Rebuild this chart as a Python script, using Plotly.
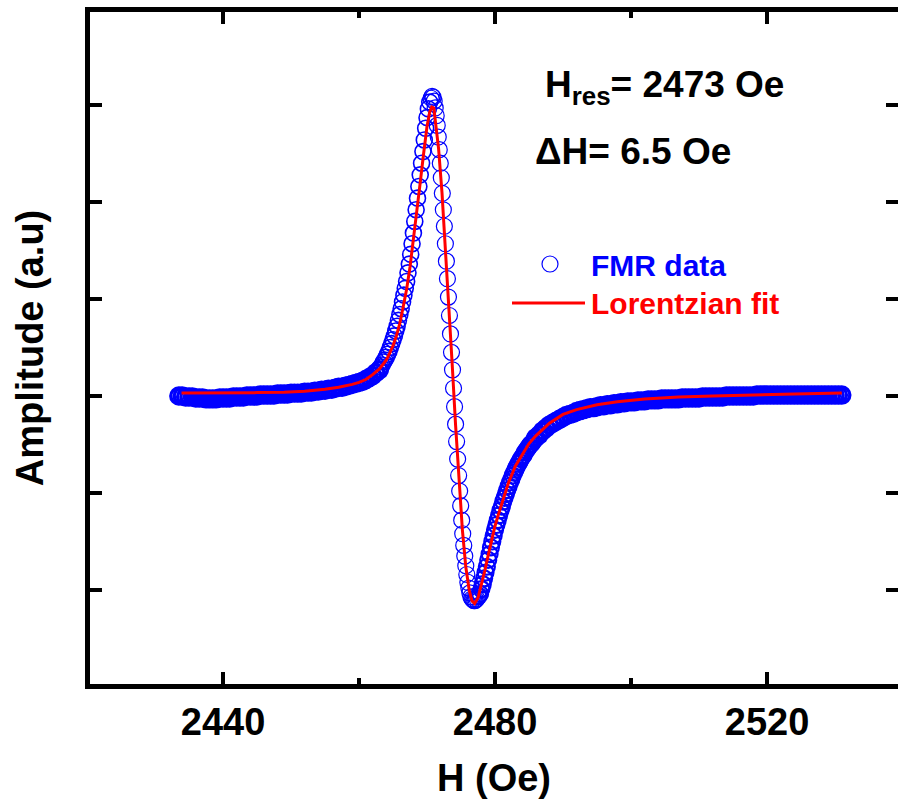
import plotly.graph_objects as go

# ---------------- data ----------------
# FMR data: field H (Oe) and amplitude (a.u.)
data_h_left = [2433.5, 2434.0, 2434.5, 2435.0, 2435.5, 2436.0, 2436.5, 2437.0, 2437.5, 2438.0,
               2438.5, 2439.0, 2439.5, 2440.0, 2440.5, 2441.0, 2441.5, 2442.0, 2442.5, 2443.0,
               2443.5, 2444.0, 2444.5, 2445.0, 2445.5, 2446.0, 2446.5, 2447.0, 2447.5, 2448.0,
               2448.5, 2449.0, 2449.5, 2450.0, 2450.5, 2451.0, 2451.5, 2452.0, 2452.5, 2453.0,
               2453.5, 2454.0, 2454.5, 2455.0, 2455.5, 2456.0, 2456.5, 2457.0, 2457.5, 2458.0,
               2458.5, 2459.0, 2459.5, 2460.0, 2460.5, 2461.0, 2461.5, 2462.0, 2462.5, 2463.0]
data_amp_left = [0.00, 0.00, -0.01, -0.01, -0.01, -0.02, -0.02, -0.02, -0.03, -0.03,
                 -0.03, -0.03, -0.02, -0.02, -0.02, -0.02, -0.01, -0.01, -0.01, -0.01,
                 0.00, 0.00, 0.00, 0.00, 0.01, 0.01, 0.01, 0.01, 0.01, 0.02,
                 0.02, 0.02, 0.02, 0.03, 0.03, 0.03, 0.03, 0.04, 0.04, 0.04,
                 0.05, 0.05, 0.06, 0.06, 0.07, 0.07, 0.08, 0.09, 0.09, 0.10,
                 0.11, 0.12, 0.13, 0.14, 0.15, 0.17, 0.19, 0.21, 0.24, 0.27]

data_h_rise = [2463.2, 2463.4, 2463.6, 2463.8, 2464.0, 2464.2, 2464.4, 2464.6, 2464.8, 2465.0,
               2465.2, 2465.4, 2465.6, 2465.8, 2466.0, 2466.2, 2466.4, 2466.6, 2466.8, 2467.0,
               2467.2, 2467.4, 2467.6, 2467.8, 2468.0, 2468.2, 2468.4, 2468.6, 2468.8, 2469.0,
               2469.2, 2469.4, 2469.6, 2469.8, 2470.0, 2470.2, 2470.4]
data_amp_rise = [0.30, 0.32, 0.35, 0.37, 0.40, 0.43, 0.46, 0.50, 0.54, 0.58,
                 0.62, 0.67, 0.72, 0.78, 0.84, 0.90, 0.97, 1.04, 1.11, 1.18,
                 1.27, 1.36, 1.46, 1.57, 1.68, 1.80, 1.92, 2.04, 2.16, 2.28,
                 2.40, 2.52, 2.64, 2.76, 2.87, 2.96, 3.03]

data_h_fall = [2470.60, 2470.75, 2470.90, 2471.05, 2471.20, 2471.35, 2471.50, 2471.65, 2471.80, 2471.95,
               2472.10, 2472.25, 2472.40, 2472.55, 2472.70, 2472.85, 2473.00, 2473.15, 2473.30, 2473.45,
               2473.60, 2473.75, 2473.90, 2474.05, 2474.20, 2474.35, 2474.50, 2474.65, 2474.80, 2474.95,
               2475.10, 2475.25, 2475.40, 2475.55, 2475.70, 2475.85, 2476.00, 2476.15, 2476.30, 2476.45,
               2476.60, 2476.75, 2476.90, 2477.05, 2477.20, 2477.35, 2477.50]
data_amp_fall = [3.07, 3.09, 3.08, 3.04, 2.97, 2.89, 2.79, 2.67, 2.54, 2.40,
                 2.25, 2.09, 1.92, 1.75, 1.57, 1.39, 1.21, 1.02, 0.83, 0.64,
                 0.45, 0.27, 0.08, -0.11, -0.29, -0.47, -0.65, -0.82, -0.98, -1.13,
                 -1.28, -1.42, -1.54, -1.65, -1.75, -1.84, -1.92, -1.98, -2.03, -2.07,
                 -2.09, -2.10, -2.11, -2.11, -2.10, -2.09, -2.07]

data_h_recover = [2477.6, 2477.8, 2478.0, 2478.2, 2478.4, 2478.6, 2478.8, 2479.0, 2479.2, 2479.4,
                  2479.6, 2479.8, 2480.0, 2480.2, 2480.4, 2480.6, 2480.8, 2481.0, 2481.2, 2481.4,
                  2481.6, 2481.8, 2482.0, 2482.2, 2482.4, 2482.6, 2482.8, 2483.0, 2483.2, 2483.4,
                  2483.6, 2483.8, 2484.0, 2484.2, 2484.4, 2484.6, 2484.8, 2485.0, 2485.2, 2485.4,
                  2485.6, 2485.8]
data_amp_recover = [-2.06, -2.04, -1.99, -1.94, -1.88, -1.82, -1.76, -1.69, -1.63, -1.56,
                    -1.50, -1.44, -1.38, -1.33, -1.28, -1.23, -1.18, -1.14, -1.09, -1.05,
                    -1.01, -0.97, -0.93, -0.89, -0.86, -0.82, -0.79, -0.76, -0.73, -0.70,
                    -0.68, -0.65, -0.63, -0.61, -0.58, -0.56, -0.54, -0.52, -0.50, -0.49,
                    -0.47, -0.45]

data_h_right = [2486.0, 2486.5, 2487.0, 2487.5, 2488.0, 2488.5, 2489.0, 2489.5, 2490.0, 2490.5,
                2491.0, 2491.5, 2492.0, 2492.5, 2493.0, 2493.5, 2494.0, 2494.5, 2495.0, 2495.5,
                2496.0, 2496.5, 2497.0, 2497.5, 2498.0, 2498.5, 2499.0, 2499.5, 2500.0, 2500.5,
                2501.0, 2501.5, 2502.0, 2502.5, 2503.0, 2503.5, 2504.0, 2504.5, 2505.0, 2505.5,
                2506.0, 2506.5, 2507.0, 2507.5, 2508.0, 2508.5, 2509.0, 2509.5, 2510.0, 2510.5,
                2511.0, 2511.5, 2512.0, 2512.5, 2513.0, 2513.5, 2514.0, 2514.5, 2515.0, 2515.5,
                2516.0, 2516.5, 2517.0, 2517.5, 2518.0, 2518.5, 2519.0, 2519.5, 2520.0, 2520.5,
                2521.0, 2521.5, 2522.0, 2522.5, 2523.0, 2523.5, 2524.0, 2524.5, 2525.0, 2525.5,
                2526.0, 2526.5, 2527.0, 2527.5, 2528.0, 2528.5, 2529.0, 2529.5, 2530.0, 2530.5,
                2531.0]
data_amp_right = [-0.43, -0.40, -0.36, -0.33, -0.30, -0.28, -0.26, -0.24, -0.22, -0.20,
                  -0.19, -0.18, -0.16, -0.15, -0.14, -0.13, -0.12, -0.12, -0.11, -0.10,
                  -0.10, -0.09, -0.09, -0.08, -0.08, -0.07, -0.07, -0.06, -0.06, -0.06,
                  -0.05, -0.05, -0.05, -0.04, -0.04, -0.04, -0.04, -0.03, -0.03, -0.03,
                  -0.03, -0.03, -0.03, -0.02, -0.02, -0.02, -0.02, -0.02, -0.02, -0.01,
                  -0.01, -0.01, -0.01, -0.01, -0.01, -0.01, 0.00, 0.00, 0.00, 0.00,
                  0.00, 0.00, 0.00, 0.00, 0.00, 0.01, 0.01, 0.01, 0.01, 0.01,
                  0.01, 0.01, 0.01, 0.01, 0.01, 0.01, 0.01, 0.01, 0.01, 0.01,
                  0.01, 0.01, 0.01, 0.01, 0.01, 0.01, 0.01, 0.01, 0.01, 0.01,
                  0.01]

# Lorentzian fit
fit_h = [2433.9, 2437.0, 2441.0, 2445.0, 2449.0, 2452.0, 2455.0, 2457.0, 2459.0, 2460.0,
         2461.0, 2462.0, 2463.0, 2463.5, 2464.0, 2464.5, 2465.0, 2465.5, 2466.0, 2466.5,
         2467.0, 2467.5, 2468.0, 2468.5, 2469.0, 2469.5, 2470.0, 2470.4, 2470.7, 2471.0,
         2471.2, 2471.7, 2472.2, 2472.7, 2473.2, 2473.7, 2474.2, 2474.7, 2475.2, 2475.7,
         2476.2, 2476.6, 2477.0, 2477.5, 2478.0, 2478.5, 2479.0, 2479.5, 2480.0, 2480.5,
         2481.0, 2482.0, 2483.0, 2484.0, 2485.0, 2486.0, 2487.0, 2488.0, 2490.0, 2492.0,
         2495.0, 2498.0, 2502.0, 2507.0, 2512.0, 2517.0, 2524.0, 2531.0]
fit_amp = [0.03, 0.03, 0.03, 0.035, 0.04, 0.05, 0.07, 0.09, 0.12, 0.14,
           0.17, 0.22, 0.28, 0.32, 0.37, 0.44, 0.52, 0.62, 0.75, 0.92,
           1.10, 1.33, 1.60, 1.90, 2.20, 2.50, 2.78, 2.93, 2.98, 2.97,
           2.85, 2.55, 2.10, 1.55, 0.95, 0.33, -0.30, -0.88, -1.38, -1.76,
           -2.00, -2.11, -2.14, -2.08, -1.95, -1.80, -1.64, -1.48, -1.34, -1.22,
           -1.11, -0.89, -0.72, -0.60, -0.49, -0.41, -0.34, -0.28, -0.19, -0.14,
           -0.09, -0.06, -0.03, -0.01, 0.00, 0.01, 0.02, 0.03]

x_tick_vals = [2440, 2480, 2520]
x_tick_text = ["2440", "2480", "2520"]
x_minor_vals = [2460, 2500]
y_tick_vals = [-2, -1, 0, 1, 2, 3]
legend_labels = ["FMR data", "Lorentzian fit"]

data_h = data_h_left + data_h_rise + data_h_fall + data_h_recover + data_h_right
data_amp = data_amp_left + data_amp_rise + data_amp_fall + data_amp_recover + data_amp_right
assert len(data_h) == len(data_amp)
assert len(fit_h) == len(fit_amp)

# ring line widths: densely sampled flat parts of the sweep look like a solid band
ring_w = ([3.4] * len(data_h_left) + [1.6] * len(data_h_rise) + [1.2] * len(data_h_fall)
          + [2.2] * len(data_h_recover) + [3.4] * len(data_h_right))

FONT = "Arial, Liberation Sans, sans-serif"
BLUE = "#0000FF"
RED = "#FF0000"

# plot area in pixels (figure 898 x 800)
L, R, T, B = 90, 898, 12, 684
def px(xp):
    return (xp - L) / (R - L)
def py(yp):
    return (B - yp) / (B - T)

fig = go.Figure()
fig.add_trace(go.Scatter(
    x=data_h, y=data_amp, mode="markers", name=legend_labels[0], showlegend=False,
    marker=dict(symbol="circle-open", size=16, color=BLUE, line=dict(width=ring_w)),
))
fig.add_trace(go.Scatter(
    x=fit_h, y=fit_amp, mode="lines", name=legend_labels[1], showlegend=False,
    line=dict(color=RED, width=3),
))

axis_common = dict(
    showgrid=False, zeroline=False, showline=True, linecolor="black", linewidth=5,
    mirror="allticks", ticks="inside", ticklen=12, tickwidth=4, tickcolor="black",
)

fig.update_layout(
    width=898, height=800,
    margin=dict(l=L, r=898 - R, t=T, b=800 - B, autoexpand=False),
    paper_bgcolor="white", plot_bgcolor="white",
    font=dict(family=FONT, color="black"),
    showlegend=False,
    xaxis=dict(
        range=[2420.44, 2539.26], tickvals=x_tick_vals, ticktext=x_tick_text,
        tickfont=dict(size=38, family=FONT, weight="bold"),
        minor=dict(tickvals=x_minor_vals, ticks="inside", ticklen=6, tickwidth=4, tickcolor="black"),
        title=dict(text="H (Oe)", font=dict(size=38, family=FONT, weight="bold"), standoff=24),
        automargin=False,
        **axis_common,
    ),
    yaxis=dict(
        range=[-2.969, 3.959], tickvals=y_tick_vals, showticklabels=False,
        title=dict(text="Amplitude (a.u)", font=dict(size=38, family=FONT, weight="bold"), standoff=31),
        automargin=False,
        **axis_common,
    ),
    shapes=[
        # legend keys
        dict(type="circle", xref="paper", yref="paper",
             x0=px(542), x1=px(558), y0=py(272), y1=py(256),
             line=dict(color=BLUE, width=1.2)),
        dict(type="line", xref="paper", yref="paper",
             x0=px(512), x1=px(585), y0=py(303), y1=py(303),
             line=dict(color=RED, width=3)),
    ],
    annotations=[
        dict(xref="paper", yref="paper", x=px(589), y=py(265), xanchor="left", yanchor="middle",
             text=legend_labels[0], showarrow=False,
             font=dict(size=30, family=FONT, weight="bold", color=BLUE)),
        dict(xref="paper", yref="paper", x=px(589), y=py(303), xanchor="left", yanchor="middle",
             text=legend_labels[1], showarrow=False,
             font=dict(size=30, family=FONT, weight="bold", color=RED)),
        dict(xref="paper", yref="paper", x=px(543), y=py(87), xanchor="left", yanchor="middle",
             text="H<sub>res</sub>= 2473 Oe", showarrow=False,
             font=dict(size=37, family=FONT, weight="bold", color="black")),
        dict(xref="paper", yref="paper", x=px(533), y=py(151), xanchor="left", yanchor="middle",
             text="ΔH= 6.5 Oe", showarrow=False,
             font=dict(size=37, family=FONT, weight="bold", color="black")),
    ],
)

fig.write_html(
    "out.html",
    config={"displayModeBar": False},
    post_script="document.body.style.margin='0px';document.body.style.overflow='hidden';",
)
